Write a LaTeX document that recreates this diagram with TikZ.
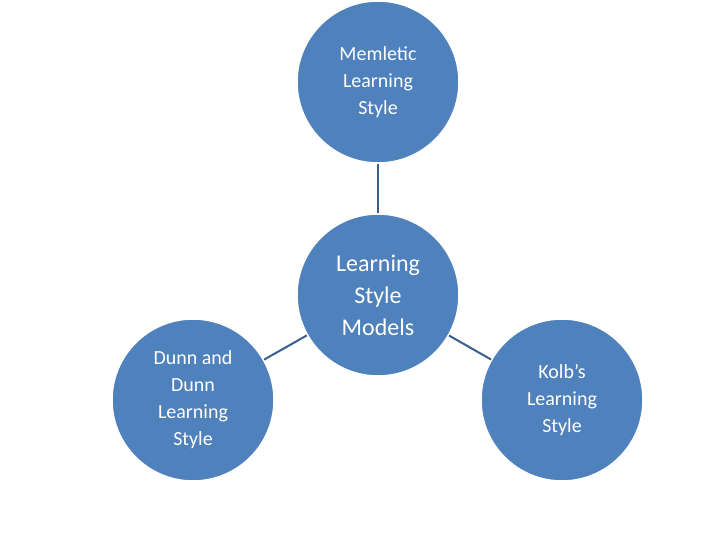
\documentclass[tikz,border=0pt]{standalone}
\usepackage{fontspec}
\setmainfont{Carlito}
\begin{document}
\begin{tikzpicture}[x=1pt,y=-1pt,
  circ/.style={circle,fill=blue1,draw=white,line width=1.5pt,minimum size=162pt,inner sep=0pt,text=white,align=center,font=\fontsize{20}{27}\selectfont},
  link/.style={draw=linkc,line width=2pt}]
\definecolor{blue1}{HTML}{4F81BD}
\definecolor{linkc}{HTML}{3A5F8C}
\useasboundingbox (0,0) rectangle (720,540);
\node[circ] (top) at (378,82) {Memletic\\Learning\\Style};
\node[circ,font=\fontsize{24}{32}\selectfont] (mid) at (378,295) {Learning\\Style\\Models};
\node[circ] (left) at (193,400) {Dunn and\\Dunn\\Learning\\Style};
\node[circ] (right) at (562,400) {Kolb’s\\Learning\\Style};
\draw[link] (top) -- (mid);
\draw[link] (mid) -- (left);
\draw[link] (mid) -- (right);
\end{tikzpicture}
\end{document}
